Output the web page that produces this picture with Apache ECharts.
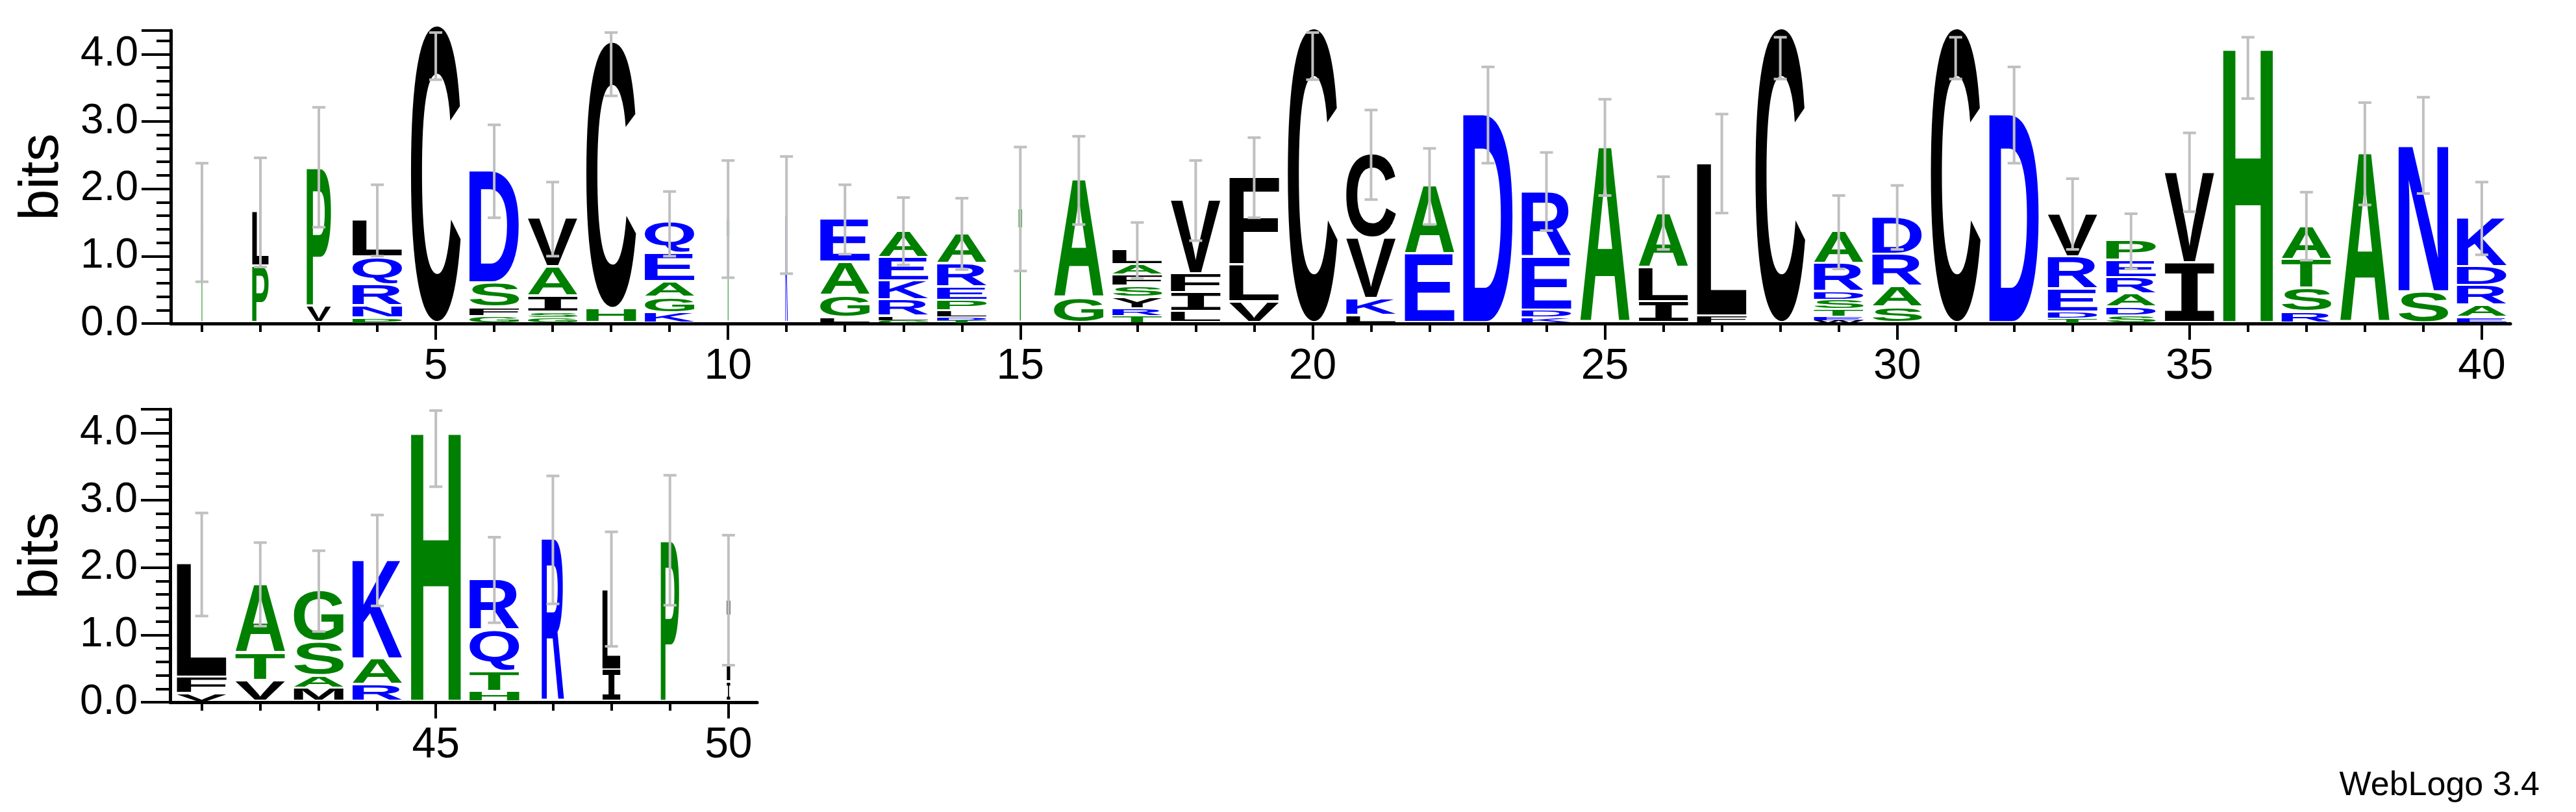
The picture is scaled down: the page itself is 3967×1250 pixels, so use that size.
<!DOCTYPE html>
<html><head><meta charset="utf-8">
<script src="https://cdn.jsdelivr.net/npm/echarts@6/dist/echarts.min.js"></script>
<style>html,body{margin:0;padding:0;background:#fff}#c{width:3967px;height:1250px}</style>
</head><body><div id="c"></div>
<script>
// Stacks per position, letters bottom -> top
const positions = Array.from({length:50},(_,i)=>i+1);
const stackLetters = ["T","PL","VP","PNRQL","C","GFSD","GSIAV","HC","KGAEQ","T",
 "K","LGAE","GLRKEA","TDLPERA","T","GA","TRYSFAL","LIFV","VLF","C",
 "LKVC","EA","D","KDER","A","ILA","FL","C","WETSDRA","SARD",
 "C","D","TDERV","SDAREP","IV","H","RSTA","A","SN","EARDK",
 "VFL","VTA","MASG","RAK","H","HTQR","R","IL","P","II"];
const stackHeights = [[1.5],[0.84,0.81],[0.25,2.06],[0.07,0.18,0.32,0.41,0.55],[4.42],[0.1,0.13,0.36,1.66],[0.08,0.08,0.24,0.43,0.72],[0.21,3.97],[0.15,0.23,0.23,0.42,0.46],[1.55],
 [1.6],[0.08,0.33,0.49,0.64],[0.04,0.06,0.24,0.28,0.35,0.4],[0.04,0.05,0.09,0.15,0.2,0.35,0.45],[1.7],[0.37,1.76],[0.1,0.11,0.17,0.16,0.17,0.15,0.23],[0.17,0.28,0.28,1.1],[0.31,0.55,1.31],[4.38],
 [0.11,0.25,0.9,1.25],[1.02,1.02],[3.1],[0.08,0.11,0.79,0.97],[2.61],[0.31,0.51,0.81],[0.1,2.27],[4.38],[0.04,0.06,0.1,0.14,0.12,0.42,0.48],[0.23,0.31,0.48,0.55],
 [4.38],[3.1],[0.07,0.09,0.34,0.48,0.64],[0.11,0.12,0.2,0.24,0.26,0.29],[0.89,1.35],[4.09],[0.16,0.35,0.43,0.49],[2.52],[0.46,2.18],[0.08,0.18,0.29,0.28,0.73],
 [0.12,0.24,1.69],[0.31,0.41,1.02],[0.2,0.18,0.51,0.76],[0.25,0.38,1.48],[4.01],[0.15,0.3,0.61,0.75],[2.42],[0.47,1.2],[2.4],[0.29,1.21]];
const columnWidth = [0.05,0.33,0.49,1,1,1,1,1,1,0.05, 0.05,1,1,1,0.07,1,1,1,1,1, 1,1,1,1,1,1,1,1,1,1, 1,1,1,1,1,1,1,1,1,1, 1,1,1,1,1,1,0.45,0.36,0.37,0.07];
const errHigh = [2.38,2.46,3.21,2.06,4.32,2.95,2.1,4.32,1.96,2.42, 2.48,2.06,1.87,1.86,2.62,2.78,1.5,2.42,2.76,4.32, 3.17,2.6,3.81,2.54,3.33,2.18,3.11,4.25,1.9,2.05, 4.25,3.81,2.15,1.63,2.83,4.25,1.95,3.28,3.36,2.1, 2.81,2.37,2.25,2.78,4.33,2.45,3.36,2.53,3.37,2.48];
const errLow = [0.62,0.84,1.43,1.0,3.62,1.57,1.0,3.38,1.0,0.68, 0.74,1.03,0.87,0.8,0.78,1.47,0.67,1.23,1.57,3.62, 1.84,1.47,2.38,1.38,1.9,1.1,1.64,3.63,0.81,1.1, 3.63,2.38,1.1,0.81,1.66,3.34,0.94,1.76,1.93,1.02, 1.28,1.13,1.05,1.43,3.2,1.18,1.46,0.83,1.44,0.55];
const yTicks = [0,1,2,3,4];
const topTickLabels = [5,10,15,20,25,30,35,40];
const bottomTickLabels = [45,50];

const GREEN='#008000', BLUE='#0000ff', BLACK='#000000';
const colorOf = l => ('AGSTPH'.includes(l) ? GREEN : ('DEQRKN'.includes(l) ? BLUE : BLACK));
const FONT = 'bold 200px "Liberation Sans", Arial, sans-serif';
const FONT_I = 'bold 200px "DejaVu Sans Mono", monospace';
const fontOf = l => (l==='I' ? FONT_I : FONT);
const mc = document.createElement('canvas').getContext('2d');
const metrics = {};
function glyph(l){
  if(!metrics[l]){
    mc.font = fontOf(l); mc.textBaseline='middle'; mc.textAlign='left';
    const m=mc.measureText(l);
    metrics[l]={a:m.actualBoundingBoxAscent,d:m.actualBoundingBoxDescent,l:m.actualBoundingBoxLeft,r:m.actualBoundingBoxRight};}
  return metrics[l];
}
function renderLogo(params, api){
  const i = api.value(0)-1;
  const spacing = api.size([1,0])[0];
  const w = 0.85*spacing*columnWidth[i];
  const cx = api.coord([i+1,0])[0];
  const X0 = cx-w/2;
  const children=[];
  let base=0;
  const ls=stackLetters[i], hs=stackHeights[i];
  for(let k=0;k<ls.length;k++){
    const h=hs[k]; const gap=Math.min(0.035,h*0.2);
    const yb=api.coord([i+1,base+gap])[1], yt=api.coord([i+1,base+h])[1];
    base+=h;
    const g=glyph(ls[k]);
    const sx=w/(g.l+g.r), sy=(yb-yt)/(g.a+g.d);
    children.push({type:'text', x:X0+g.l*sx, y:yt+g.a*sy, scaleX:sx, scaleY:sy,
      style:{text:ls[k], font:fontOf(ls[k]), fill:colorOf(ls[k]), align:'left', verticalAlign:'middle', textAlign:'left', textVerticalAlign:'middle'}});
  }
  const pt=api.coord([i+1,errHigh[i]]), pb=api.coord([i+1,errLow[i]]);
  const cap=10, ls2={stroke:'#c0c0c0', lineWidth:4};
  children.push({type:'line', shape:{x1:cx,y1:pt[1],x2:cx,y2:pb[1]}, style:ls2});
  children.push({type:'line', shape:{x1:cx-cap,y1:pt[1],x2:cx+cap,y2:pt[1]}, style:ls2});
  children.push({type:'line', shape:{x1:cx-cap,y1:pb[1],x2:cx+cap,y2:pb[1]}, style:ls2});
  return {type:'group', children};
}
const LABEL_FONT='"Liberation Sans Narrow", "Liberation Sans", Arial, sans-serif';
function xAxes(grid,min,max,ticks,labels){
  return [
   {gridIndex:grid,type:'value',min,max,axisLine:{lineStyle:{color:'#000',width:5}},
    axisTick:{customValues:ticks,length:13,lineStyle:{width:4,color:'#000'}},axisLabel:{show:false},splitLine:{show:false}},
   {gridIndex:grid,type:'value',min,max,position:'bottom',axisLine:{show:false},
    axisTick:{customValues:labels,length:25,lineStyle:{width:4,color:'#000'}},
    axisLabel:{customValues:labels,fontSize:66,fontFamily:LABEL_FONT,color:'#000',margin:34},splitLine:{show:false}}
  ];
}
function yAxis(grid){
  return {gridIndex:grid,type:'value',min:0,max:4.35,interval:1,
    name:'bits',nameLocation:'middle',nameGap:155,nameRotate:90,
    nameTextStyle:{fontSize:86,fontFamily:'"Liberation Sans", Arial',color:'#000'},
    axisLine:{show:true,lineStyle:{color:'#000',width:5}},
    axisTick:{show:true,length:45,lineStyle:{width:4,color:'#000'}},
    minorTick:{show:true,splitNumber:5,length:22,lineStyle:{width:4,color:'#000'}},
    axisLabel:{fontSize:64,fontFamily:LABEL_FONT,color:'#000',margin:50,formatter:v=>v.toFixed(1),
      customValues:yTicks},
    splitLine:{show:false}};
}
const topPos=positions.filter(p=>p<=40), botPos=positions.filter(p=>p>40);
const chart=echarts.init(document.getElementById('c'));
chart.setOption({
  animation:false, backgroundColor:'#fff',
  grid:[{left:263,right:101,top:47,height:451},{left:262,width:904,top:630,height:451}],
  xAxis:[...xAxes(0,0.467,40.49,topPos,topTickLabels),...xAxes(1,40.46,50.49,botPos,bottomTickLabels)],
  yAxis:[yAxis(0),yAxis(1)],
  series:[
    {type:'custom',xAxisIndex:0,yAxisIndex:0,clip:false,renderItem:renderLogo,data:topPos.map(p=>[p])},
    {type:'custom',xAxisIndex:2,yAxisIndex:1,clip:false,renderItem:renderLogo,data:botPos.map(p=>[p])}
  ],
  graphic:[{type:'text',right:56,bottom:14,style:{text:'WebLogo 3.4',font:'52px "Liberation Sans", Arial',fill:'#000'}}]
});
</script></body></html>
